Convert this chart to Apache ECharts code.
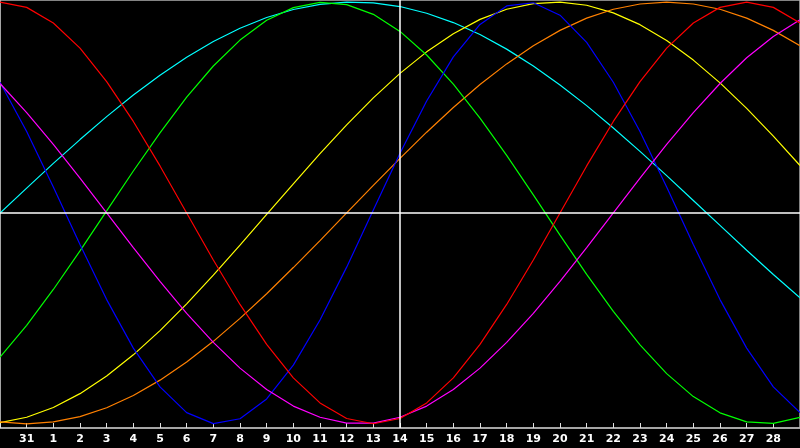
<!DOCTYPE html>
<html>
<head>
<meta charset="utf-8">
<script src="https://cdn.jsdelivr.net/npm/echarts@6/dist/echarts.min.js"></script>
<style>
html,body{margin:0;padding:0;background:#000;}
#c{width:800px;height:448px;}
</style>
</head>
<body>
<div id="c"></div>
<script>
var days = ["30","31","1","2","3","4","5","6","7","8","9","10","11","12","13","14","15","16","17","18","19","20","21","22","23","24","25","26","27","28","29"];
var todayIndex = 15;

var redValues = [1,0.975,0.901,0.782,0.623,0.434,0.223,0,-0.223,-0.434,-0.623,-0.782,-0.901,-0.975,-1,-0.975,-0.901,-0.782,-0.623,-0.434,-0.223,0,0.223,0.434,0.623,0.782,0.901,0.975,1,0.975,0.901];
var blueValues = [0.620,0.386,0.123,-0.150,-0.411,-0.641,-0.825,-0.947,-0.999,-0.976,-0.882,-0.722,-0.508,-0.257,0.014,0.283,0.531,0.740,0.894,0.982,0.997,0.938,0.809,0.620,0.386,0.123,-0.150,-0.411,-0.641,-0.825,-0.947];
var greenValues = [-0.684,-0.533,-0.363,-0.180,0.010,0.199,0.380,0.549,0.697,0.820,0.914,0.974,0.999,0.988,0.942,0.861,0.749,0.611,0.450,0.273,0.086,-0.105,-0.291,-0.467,-0.626,-0.762,-0.871,-0.948,-0.991,-0.998,-0.970];
var cyanValues = [0,0.118,0.235,0.348,0.457,0.559,0.653,0.738,0.813,0.876,0.927,0.965,0.989,1.000,0.996,0.979,0.947,0.903,0.846,0.777,0.697,0.607,0.509,0.403,0.292,0.177,0.059,-0.059,-0.177,-0.292,-0.403];
var yellowValues = [-0.995,-0.969,-0.923,-0.857,-0.773,-0.673,-0.558,-0.431,-0.295,-0.153,-0.007,0.138,0.281,0.418,0.546,0.662,0.764,0.850,0.918,0.966,0.993,1.000,0.985,0.949,0.893,0.818,0.725,0.617,0.496,0.364,0.225];
var orangeValues = [-0.991,-1,-0.991,-0.966,-0.924,-0.866,-0.793,-0.707,-0.609,-0.5,-0.383,-0.259,-0.131,0,0.131,0.259,0.383,0.5,0.609,0.707,0.793,0.866,0.924,0.966,0.991,1,0.991,0.966,0.924,0.866,0.793];
var magentaValues = [0.614,0.476,0.325,0.165,0,-0.165,-0.325,-0.476,-0.614,-0.736,-0.837,-0.916,-0.969,-0.997,-0.997,-0.969,-0.916,-0.837,-0.736,-0.614,-0.476,-0.325,-0.165,0,0.165,0.325,0.476,0.614,0.736,0.837,0.916];

var seriesDefs = [
  {name:"cyan", color:"#00ffff", data:cyanValues},
  {name:"yellow", color:"#ffff00", data:yellowValues},
  {name:"orange", color:"#ff8000", data:orangeValues},
  {name:"green", color:"#00ff00", data:greenValues},
  {name:"blue", color:"#0000ff", data:blueValues},
  {name:"magenta", color:"#ff00ff", data:magentaValues},
  {name:"red", color:"#ff0000", data:redValues}
];

var chart = echarts.init(document.getElementById('c'), null, {renderer:'canvas'});
var series = seriesDefs.map(function(s){
  return {
    type:'line', name:s.name, data:s.data, symbol:'none', smooth:false,
    lineStyle:{color:s.color, width:1.2}, itemStyle:{color:s.color},
    animation:false, silent:true, z:3
  };
});
series.push({
  type:'line', data:[], silent:true, animation:false,
  markLine:{
    silent:true, symbol:['none','none'], label:{show:false},
    lineStyle:{color:'#ffffff', width:1.5, type:'solid'},
    data:[{yAxis:0},{xAxis:days[todayIndex]}]
  },
  z:2
});

chart.setOption({
  backgroundColor:'#000000',
  animation:false,
  grid:{left:0, right:-3, top:0, bottom:20, show:true, borderColor:'#b0b0b0', borderWidth:1.5, backgroundColor:'transparent'},
  xAxis:{
    type:'category', data:days, boundaryGap:false,
    axisLine:{show:true, onZero:false, lineStyle:{color:'#b0b0b0', width:1.5}},
    axisTick:{show:true, inside:true, length:5, lineStyle:{color:'#e0e0e0'}, interval:0},
    axisLabel:{
      color:'#ffffff', fontWeight:'bold', fontSize:11, fontFamily:'DejaVu Sans', margin:6,
      interval:function(i){ return i>0 && i<days.length-1; }
    },
    splitLine:{show:false}
  },
  yAxis:{
    type:'value', min:-1.02, max:1.01,
    axisLine:{show:true, onZero:false, lineStyle:{color:'#b0b0b0', width:1.5}},
    axisTick:{show:false}, axisLabel:{show:false}, splitLine:{show:false}
  },
  series:series
});
</script>
</body>
</html>
